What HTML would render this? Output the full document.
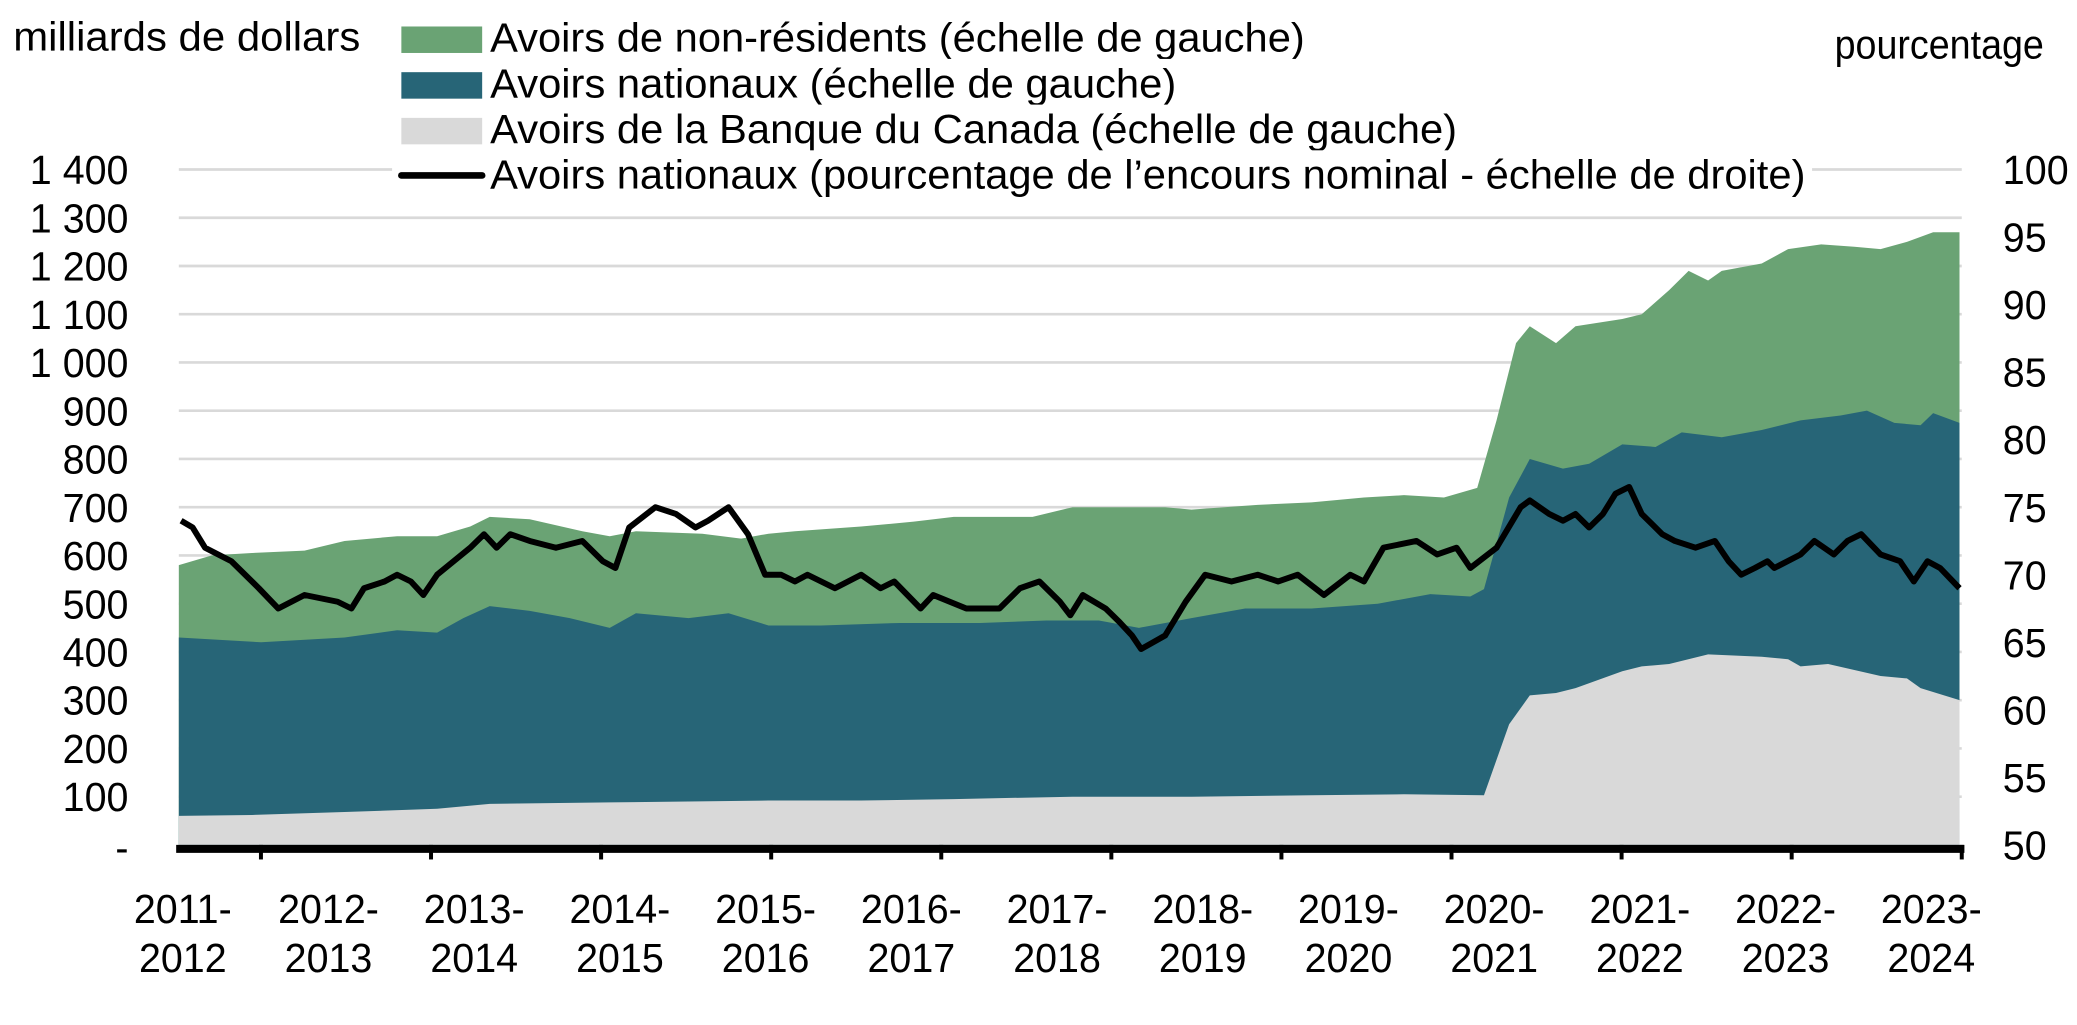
<!DOCTYPE html>
<html><head><meta charset="utf-8">
<style>html,body{margin:0;padding:0;background:#fff}svg{display:block}text{font-family:"Liberation Sans",Arial,sans-serif;fill:#000}</style>
</head><body>
<svg id="chart" width="2077" height="1025" viewBox="0 0 1568 774" preserveAspectRatio="none" xmlns="http://www.w3.org/2000/svg">
<g id="grid"></g><g id="areas"></g><g id="axes"></g><g id="lineg"></g><g id="legend"></g>
</svg>
<script>
const leftTicks=[0,100,200,300,400,500,600,700,800,900,1000,1100,1200,1300,1400];
const leftTickLabels=["-","100","200","300","400","500","600","700","800","900","1 000","1 100","1 200","1 300","1 400"];
const rightTicks=[50,55,60,65,70,75,80,85,90,95,100];
const yearLabelsTop=["2011-","2012-","2013-","2014-","2015-","2016-","2017-","2018-","2019-","2020-","2021-","2022-","2023-"];
const yearLabelsBottom=["2012","2013","2014","2015","2016","2017","2018","2019","2020","2021","2022","2023","2024"];
// months since April 2011
const bocMonths=[0,6.4,14.5,22.6,27.2,37.7,51.6,59.7,67.8,78.2,88.6,99.1,107.2,114.2,116.4,118.2,120.5,122.2,126.3,128,130.4,133.8,138.5,140.8,141.9,144.3,148.9,151.2,152.4,155.8];
const bocValues=[60,62,68,75,85,88,92,92,95,100,100,103,105,103,250,310,315,325,360,370,375,395,390,385,370,375,350,345,325,300];
const domMonths=[0,7.2,14.5,19.1,22.6,24.9,27.2,30.7,34.2,37.7,40,44.6,48.1,51.6,56.2,63.1,70.1,75.9,80.5,84,88.6,93.3,99.1,104.9,109.5,113,114.2,116.4,118.2,121.1,123.4,126.3,129.2,131.5,135,138.5,141.9,145.4,147.7,150.1,152.4,153.5,155.8];
const domCumValues=[430,420,430,445,440,470,495,485,470,450,480,470,480,455,455,460,460,465,465,450,470,490,490,500,520,515,530,720,800,780,790,830,825,855,845,860,880,890,900,875,870,895,875];
const totMonths=[0,2.9,6.4,11,14.5,19.1,22.6,25.5,27.2,30.7,35.3,37.7,40,45.8,49.2,51.6,53.9,59.7,64.3,67.8,74.7,78.2,86.3,88.6,94.4,99.1,103.7,107.2,110.7,113.6,115.3,117,118.2,120.5,122.2,126.3,128,130.4,132.1,133.8,135,138.5,140.8,143.7,146.6,148.9,151.2,153.5,155.8];
const totValues=[580,600,605,610,630,640,640,660,680,675,650,640,650,645,635,645,650,660,670,680,680,700,700,695,705,710,720,725,720,740,880,1040,1075,1040,1075,1090,1100,1150,1190,1170,1190,1205,1235,1245,1240,1235,1250,1270,1270];
const lineMonths=[0.2,1.2,2.3,4.6,7,8.7,11,13.9,15.1,16.2,18,19.1,20.3,21.4,22.6,25.5,26.7,27.8,29,30.7,33,35.3,37.1,38.2,39.4,41.7,43.5,45.2,46.3,48.1,49.8,51.3,52.7,53.9,55,57.4,59.7,61.4,62.6,64.9,66,68.9,71.8,73.6,75.3,77.1,78,79.1,81.1,82.3,83.4,84.2,86.3,88.1,89.8,92.1,94.4,96.2,97.9,100.2,102.5,103.7,105.4,108.3,110.1,111.8,113,115.3,117.4,118.2,119.9,121.1,122.2,123.4,124.6,125.7,126.9,128,129.8,130.9,132.7,134.4,135.6,136.7,137.9,139,139.6,141.9,143.1,144.8,146,147.2,148.9,150.6,151.8,153,154.1,155.8];
const linePct=[74,73.5,72,71,69,67.5,68.5,68,67.5,69,69.5,70,69.5,68.5,70,72,73,72,73,72.5,72,72.5,71,70.5,73.5,75,74.5,73.5,74,75,73,70,70,69.5,70,69,70,69,69.5,67.5,68.5,67.5,67.5,69,69.5,68,67,68.5,67.5,66.5,65.5,64.5,65.5,68,70,69.5,70,69.5,70,68.5,70,69.5,72,72.5,71.5,72,70.5,72,75,75.5,74.5,74,74.5,73.5,74.5,76,76.5,74.5,73,72.5,72,72.5,71,70,70.5,71,70.5,71.5,72.5,71.5,72.5,73,71.5,71,69.5,71,70.5,69];

const NS="http://www.w3.org/2000/svg";
const L=135,R=1481,B=638,T=128,FS=31,K=0.96;
const x=m=>L+(R-L)*m/156;
const yL=v=>B-(B-T)*v/1400;
const yR=v=>B-(B-T)*(v-50)/50;
function mk(tag,attrs,parent){const e=document.createElementNS(NS,tag);for(const k in attrs)e.setAttribute(k,attrs[k]);parent.appendChild(e);return e;}
function widen(t){try{const w=t.getComputedTextLength();t.setAttribute('textLength',(w*K).toFixed(1));t.setAttribute('lengthAdjust','spacingAndGlyphs');}catch(e){}}
const grid=document.getElementById('grid'),areas=document.getElementById('areas'),axes=document.getElementById('axes'),lineg=document.getElementById('lineg'),legend=document.getElementById('legend');

leftTicks.forEach((v,i)=>{
  if(v>0){const g=mk('line',{x1:L,x2:R,y1:yL(v),y2:yL(v),stroke:'#d9d9d9','stroke-width':2},grid);
  
  }
  const t=mk('text',{x:97,y:yL(v)+(v===0?13:11),'text-anchor':'end','font-size':FS},axes);t.textContent=leftTickLabels[i];
  
  
  widen(t);
});
rightTicks.forEach(v=>{
  const t=mk('text',{x:1512,y:yR(v)+11,'font-size':FS},axes);t.textContent=v;
  
  
  widen(t);
});
function areaPath(ms,vs){let d='M'+x(ms[0])+','+B;ms.forEach((m,i)=>{d+=' L'+x(m).toFixed(1)+','+yL(vs[i]).toFixed(1);});d+=' L'+x(ms[ms.length-1])+','+B+' Z';return d;}
const a1=mk('path',{d:areaPath(totMonths,totValues),fill:'#6aa374'},areas);


const a2=mk('path',{d:areaPath(domMonths,domCumValues),fill:'#276577'},areas);


const a3=mk('path',{d:areaPath(bocMonths,bocValues),fill:'#d9d9d9'},areas);



const ax=mk('line',{x1:L-2,x2:R+2,y1:B+3,y2:B+3,stroke:'#000','stroke-width':6},axes);


for(let i=0;i<11;i++){const xx=197+128.4*i;const tk=mk('line',{x1:xx,x2:xx,y1:B,y2:B+11,stroke:'#000','stroke-width':3},axes);

}
yearLabelsTop.forEach((s,i)=>{const cx=138+110*i;
  const t1=mk('text',{x:cx,y:697,'text-anchor':'middle','font-size':FS},axes);t1.textContent=s;
  
  
  widen(t1);
  const t2=mk('text',{x:cx,y:734,'text-anchor':'middle','font-size':FS},axes);t2.textContent=yearLabelsBottom[i];
  
  
  widen(t2);
});
let d='';lineMonths.forEach((m,i)=>{d+=(i?' L':'M')+x(m).toFixed(1)+','+yR(linePct[i]).toFixed(1);});
const ln=mk('path',{d:d,fill:'none',stroke:'#000','stroke-width':4.5,'stroke-linejoin':'round'},lineg);



const t0=mk('text',{x:10,y:38,'font-size':FS,textLength:262,lengthAdjust:'spacingAndGlyphs'},legend);t0.textContent='milliards de dollars';


const t9=mk('text',{x:1385,y:44,'font-size':FS,textLength:158,lengthAdjust:'spacingAndGlyphs'},legend);t9.textContent='pourcentage';


const legItems=[['#6aa374','Avoirs de non-résidents (échelle de gauche)',615,'legend-non-residents'],['#276577','Avoirs nationaux (échelle de gauche)',518,'legend-domestic'],['#d9d9d9','Avoirs de la Banque du Canada (échelle de gauche)',730,'legend-bank-of-canada'],['line','Avoirs nationaux (pourcentage de l’encours nominal - échelle de droite)',993,'legend-domestic-percentage']];
legItems.forEach((it,i)=>{const cy=28+34.5*i;
  const g=mk('g',{},legend);
  
  
  mk('rect',{x:296,y:cy-18,width:1072,height:36,fill:'#fff'},g);
  if(it[0]==='line')mk('line',{x1:303,x2:364,y1:cy+1,y2:cy+1,stroke:'#000','stroke-width':5,'stroke-linecap':'round'},g);
  else mk('rect',{x:303,y:cy-8,width:61,height:20,fill:it[0]},g);
  const t=mk('text',{x:370,y:cy+11,'font-size':FS,textLength:it[2],lengthAdjust:'spacingAndGlyphs'},g);t.textContent=it[1];
});
</script>
</body></html>
